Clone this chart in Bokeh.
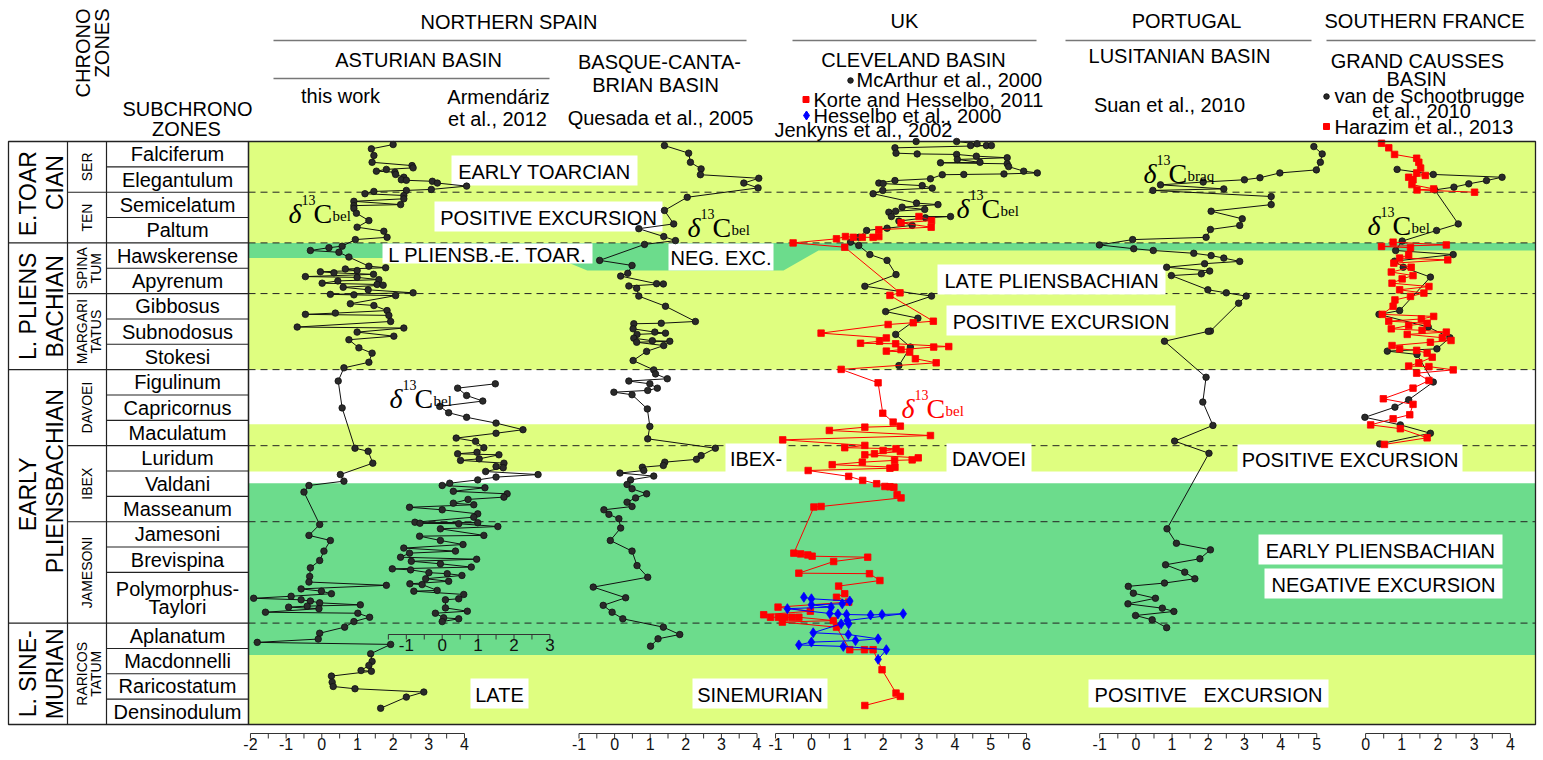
import math
import numpy as np
from bokeh.plotting import figure
from bokeh.models import Range1d
from bokeh.core.properties import value
from bokeh.embed import file_html
from bokeh.resources import INLINE

# ---------------------------------------------------------------- data
SUBZONES = ["Falciferum", "Elegantulum", "Semicelatum", "Paltum", "Hawskerense",
            "Apyrenum", "Gibbosus", "Subnodosus", "Stokesi", "Figulinum",
            "Capricornus", "Maculatum", "Luridum", "Valdani", "Masseanum",
            "Jamesoni", "Brevispina", "Polymorphus-\nTaylori", "Aplanatum",
            "Macdonnelli", "Raricostatum", "Densinodulum"]
SUBZONE_SPAN = [1] * 17 + [2] + [1] * 4
ZONES = ["SER", "TEN", "SPINA\nTUM", "MARGARI\nTATUS", "DAVOEI", "IBEX",
         "JAMESONI", "RARICOS\nTATUM"]
ZONE_SPAN = [2, 2, 2, 3, 3, 3, 4, 4]
STAGES = ["E.TOAR\nCIAN", "L. PLIENS\nBACHIAN", "EARLY\nPLIENSBACHIAN",
          "L. SINE-\nMURIAN"]
STAGE_SPAN = [4, 5, 10, 4]

# background bands (in subzone units, 0 = top of Falciferum)
BAND_TOP = [0, 9, 11.15, 13.02, 13.48, 20.26]
BAND_BOTTOM = [9, 11.15, 13.02, 13.48, 20.26, 23]
BAND_KIND = ["pos", "none", "pos", "none", "neg", "pos"]

# Asturian basin, this work
TW_D13C = [2.00, 1.39, 1.46, 1.41, 2.53, 2.56, 1.81, 1.53, 2.05, 2.07, 2.30, 2.23, 2.37, 3.10, 3.24, 4.06,
           3.07, 2.37, 1.46, 1.21, 2.30, 2.30, 0.90, 2.21, 0.90, 0.90, 0.97, 1.32, 0.99, 1.74, 1.83, 0.94,
           0.57, 0.20, -0.32, 0.48, 0.76, 1.32, 1.79, 0.66, 0.99, -0.04, 0.34, 1.45, -0.46, 0.99, 1.60,
           0.45, 0.01, 1.55, 1.72, 0.60, 1.30, 2.56, 0.24, 0.90, 2.07, 0.80, 1.46, 1.83, 0.38, -0.46, 1.88,
           1.93, -0.69, 2.30, 0.99, 2.02, 0.76, 1.04, 1.41, 1.32, 0.62, 0.46, 0.57, 0.93, 1.30, 1.43, 0.52,
           0.62, -0.36, -0.50, -0.06, -0.36, 0.24, 0.06, -0.06, -0.32, -0.34, -0.36, 1.81, -0.58, -0.01,
           0.27, -0.86, -1.91, -0.58, -0.32, -0.06, 1.08, -0.41, -0.93, -0.08, -1.58, 1.01, 1.34, 0.90,
           0.64, -0.06, -0.10, -1.81, 1.93, 1.37, 1.41, 1.32, 1.10, 1.39, 0.27, 0.29, 0.32, 0.93, 2.86,
           2.37, 1.65]
TW_ZONE = [0.12, 0.29, 0.55, 0.82, 0.95, 1.04, 1.10, 1.17, 1.21, 1.30, 1.41, 1.51, 1.53, 1.57, 1.64, 1.76,
           1.89, 1.93, 1.97, 2.06, 2.13, 2.26, 2.36, 2.49, 2.53, 2.64, 2.83, 3.12, 3.38, 3.54, 3.78, 3.87,
           4.13, 4.19, 4.30, 4.37, 4.56, 4.92, 4.98, 5.03, 5.09, 5.14, 5.18, 5.24, 5.33, 5.36, 5.45,
           5.50, 5.59, 5.64, 5.67, 5.75, 5.85, 5.97, 6.03, 6.05, 6.08, 6.40, 6.47, 6.67, 6.77, 6.82, 6.86,
           7.10, 7.32, 7.36, 7.52, 7.68, 7.82, 8.14, 8.35, 8.71, 8.93, 9.45, 10.51, 12.10, 12.22, 12.69, 13.14,
           13.40, 13.57, 13.83, 15.11, 15.54, 15.74, 16.16, 16.53, 16.82, 17.16, 17.38, 17.51, 17.65, 17.74,
           17.84, 17.94, 18.02, 18.08, 18.13, 18.20, 18.28, 18.33, 18.37, 18.43, 18.57, 18.61, 18.77, 18.94,
           19.16, 19.40, 19.63, 19.76, 19.84, 20.21, 20.51, 20.67, 20.87, 20.90, 21.09, 21.33, 21.50, 21.59, 21.72,
           21.92, 22.36]

# Asturian basin, Armendariz et al. 2012
AR_D13C = [1.48, 0.43, 0.68, 1.13, -0.07, 0.18, 0.68, 1.50, 2.25, 1.50, 0.39, 0.93, 1.16, 0.97, 0.43, 1.58,
           1.03, 0.51, 1.72, 1.50, 1.70, 1.21, 2.67, 1.50, 0.99, 0.21, 0.00, 1.19, 0.31, 1.81, 1.72, 0.72,
           0.31, 0.88, -0.91, 0.00, 0.99, 0.88, -0.76, 0.99, -0.62, 0.46, 1.55, -0.05, 1.16, -0.63, -0.05,
           0.58, -1.07, 0.37, -0.91, -1.16, 0.96, -0.86, -0.05, 0.81, -1.39, -0.88, -0.37, 0.14, 0.55, -0.46,
           0.18, -0.90, -0.56, -0.14, -0.79, 0.60, 0.46, 0.09, 0.09, 0.70, -0.19, 0.04, 0.46, 0.00]
AR_ZONE = [9.56, 9.73, 10.02, 10.24, 10.45, 10.70, 10.88, 11.11, 11.37, 11.51, 11.70, 11.83, 12.08, 12.26,
           12.32, 12.36, 12.52, 12.58, 12.69, 12.82, 12.87, 13.02, 13.14, 13.24, 13.35, 13.48, 13.57, 13.66,
           13.80, 13.90, 14.03, 14.12, 14.27, 14.33, 14.43, 14.53, 14.69, 14.82, 15.02, 15.04, 15.06, 15.08,
           15.19, 15.28, 15.54, 15.57, 15.74, 15.90, 16.04, 16.16, 16.24, 16.40, 16.48, 16.56, 16.66, 16.79,
           16.86, 16.90, 17.01, 17.05, 17.12, 17.25, 17.35, 17.45, 17.48, 17.71, 17.74, 17.87, 18.04, 18.08,
           18.40, 18.53, 18.61, 18.79, 18.83, 18.94]

# Basque-Cantabrian basin, Quesada et al. 2005
BC_D13C = [1.40, 2.08, 2.13, 2.43, 2.41, 4.05, 3.63, 4.03, 2.04, 1.40, 1.66, 0.68, 1.38, 1.71, 0.84, -0.42,
           0.49, 0.37, 0.17, 1.18, 1.37, 0.40, 0.62, 0.68, 1.43, 2.27, 1.31, 0.54, 0.52, 1.13, 1.43, 0.63,
           0.54, 1.06, 1.55, 0.62, 1.38, 0.90, 0.52, 1.10, 1.15, 1.48, 0.40, 0.99, 1.20, 0.93, -0.02, 0.49,
           0.92, 0.99, 0.93, 2.83, 2.43, 2.30, 1.41, 1.37, 0.78, 0.82, 0.15, 1.10, 0.45, 0.35, 0.49, 0.90,
           0.59, 0.35, 0.49, -0.30, -0.16, 0.12, 0.17, -0.12, 0.49, 0.63, 0.93, -0.60, 0.31, -0.32, -0.07,
           0.23, 1.37, 1.83, 1.22, 1.01]
BC_ZONE = [0.16, 0.46, 0.82, 1.08, 1.31, 1.45, 1.64, 1.83, 2.20, 2.72, 3.25, 3.44, 3.75, 3.91, 4.06, 4.69,
           4.89, 5.20, 5.31, 5.61, 5.62, 5.70, 5.79, 6.10, 6.50, 7.10, 7.17, 7.19, 7.39, 7.52, 7.56, 7.61,
           7.76, 7.86, 7.88, 7.92, 8.05, 8.28, 8.64, 9.01, 9.17, 9.36, 9.45, 9.56, 9.73, 9.82, 9.89, 9.99,
           10.55, 11.24, 11.73, 12.10, 12.39, 12.54, 12.65, 12.78, 12.85, 12.98, 13.08, 13.20, 13.35, 13.53,
           13.70, 13.90, 14.06, 14.23, 14.40, 14.53, 14.71, 14.88, 15.25, 15.74, 16.16, 16.73, 17.19, 17.58,
           18.00, 18.30, 18.57, 18.83, 19.16, 19.45, 19.62, 19.91]

# Cleveland basin, McArthur et al. 2000 (black)
MA_D13C = [2.92, 4.05, 4.62, 4.44, 4.88, 5.02, 2.33, 2.36, 2.95, 4.05, 4.60, 5.46, 4.07, 4.70, 3.60, 5.46,
           5.50, 5.92, 6.30, 5.37, 4.25, 3.65, 3.32, 2.33, 1.88, 2.00, 3.09, 3.37, 1.99, 1.72, 2.93, 3.53,
           2.53, 3.16, 2.35, 2.16, 2.23, 3.88, 3.18, 2.44, 2.81, 2.11, 1.54, 1.32, 1.09, 1.32, 1.63, 2.11,
           2.36, 1.49, 3.35, 2.07, 2.97, 2.35, 2.76, 2.44]
MA_ZONE = [0.00, 0.00, 0.09, 0.16, 0.16, 0.16, 0.25, 0.46, 0.49, 0.51, 0.58, 0.64, 0.71, 0.82, 0.84, 0.88,
           0.99, 1.17, 1.24, 1.28, 1.30, 1.31, 1.47, 1.54, 1.64, 1.66, 1.74, 1.84, 1.93, 2.06, 2.43, 2.49,
           2.59, 2.68, 2.75, 2.79, 2.96, 2.96, 3.01, 3.14, 3.31, 3.42, 3.51, 3.78, 3.97, 4.10, 4.46, 4.69,
           5.25, 5.71, 6.10, 6.71, 6.97, 7.61, 8.11, 8.84]

# Cleveland basin, Korte and Hesselbo 2011 (red)
KH_D13C = [3.00, 3.35, 2.50, 3.34, 1.88, 1.88, 1.72, 1.42, 1.17, 0.95, 0.70, -0.51, 0.93, 2.47, 2.19, 3.40,
           2.84, 2.14, 0.27, 2.09, 1.90, 1.37, 2.35, 3.83, 3.41, 2.50, 2.09, 2.74, 2.90, 3.48, 0.83, 1.86,
           1.99, 2.28, 2.48, 1.49, 0.50, 3.32, -0.80, 1.49, 0.93, 2.36, 2.00, 2.48, 1.76, 1.49, 2.98, 2.81,
           2.32, 1.42, 0.58, 2.33, 2.19, -0.09, 1.04, 1.43, 1.82, 2.05, 2.19, 2.30, 2.39, 2.50, 0.27, 0.07,
           -0.49, -0.30, -0.10, 0.02, 1.57, 0.62, -0.35, 1.62, 1.91, 0.76, 0.93, 0.70, 1.04, -0.93, -0.03,
           -1.33, -1.14, -0.92, -0.74, -0.54, -0.35, 0.61, -0.81, 0.70, 1.07, 1.48, 1.72, 1.97, 2.36, 2.48,
           1.49]
KH_ZONE = [2.96, 3.12, 3.21, 3.38, 3.48, 3.75, 3.78, 3.78, 3.78, 3.75, 3.84, 4.00, 4.17, 5.97, 6.07, 7.09,
           7.15, 7.22, 7.56, 7.75, 7.88, 7.96, 7.98, 8.09, 8.11, 8.21, 8.27, 8.31, 8.57, 8.73, 8.99, 9.52,
           10.72, 11.07, 11.23, 11.27, 11.40, 11.60, 11.77, 11.99, 12.08, 12.12, 12.19, 12.23, 12.32, 12.36,
           12.48, 12.56, 12.58, 12.65, 12.75, 12.85, 12.89, 12.98, 13.21, 13.37, 13.50, 13.61, 13.62, 13.64,
           13.93, 14.06, 14.40, 14.42, 16.24, 16.27, 16.31, 16.36, 16.40, 16.57, 17.03, 17.05, 17.32, 17.54,
           17.84, 17.98, 18.17, 18.37, 18.53, 18.67, 18.77, 18.77, 18.77, 18.77, 18.77, 18.90, 18.96, 19.16,
           20.05, 20.05, 20.05, 20.84, 21.76, 21.89, 22.25]

# Cleveland basin, Hesselbo et al. 2000 (blue)
HE_D13C = [-0.21, 0.00, 1.07, 0.86, 0.00, 0.55, -0.67, 0.51, 0.74, 0.98, 1.65, 1.97, 2.56, 1.00, 1.04,
           0.83, 0.05, 1.03, 1.86, 1.23, 0.00, -0.35, 0.89, 2.09, 1.86]
HE_ZONE = [17.98, 18.04, 18.13, 18.24, 18.28, 18.37, 18.43, 18.62, 18.64, 18.66, 18.68, 18.66, 18.63, 18.90,
           19.03, 19.03, 19.38, 19.45, 19.62, 19.69, 19.75, 19.86, 19.92, 20.05, 20.43]

# Lusitanian basin, Suan et al. 2010
SU_D13C = [4.92, 5.15, 5.10, 4.99, 3.98, 3.43, 3.00, 1.86, 0.68, 2.43, 0.47, 3.74, 3.74, 2.08, 2.94, 2.87,
           2.06, 1.94, -0.09, -1.01, -0.06, 0.48, 1.60, 2.08, 2.43, 2.87, 1.90, 0.85, 2.04, 1.81, 0.98, 1.99,
           2.50, 3.05, 2.84, 2.06, 2.00, 0.79, 1.94, 1.85, 2.13, 1.07, 2.02, 0.86, 1.12, 2.06, 1.77, 0.82,
           1.35, 1.63, 0.79, -0.21, -0.07, 0.54, -0.22, 0.73, 1.05, -0.01, 0.45, 0.85]
SU_ZONE = [0.20, 0.49, 0.82, 1.12, 1.24, 1.43, 1.51, 1.60, 1.71, 1.87, 1.93, 2.17, 2.49, 2.75, 3.05, 3.31,
           3.47, 3.78, 3.87, 4.08, 4.23, 4.30, 4.41, 4.50, 4.60, 4.73, 4.82, 4.96, 5.11, 5.22, 5.29, 5.85,
           5.97, 6.10, 6.38, 7.48, 7.49, 7.88, 9.30, 10.28, 11.20, 11.82, 12.30, 15.28, 15.85, 16.11, 16.46,
           16.70, 16.99, 17.25, 17.42, 17.55, 17.82, 18.02, 18.24, 18.41, 18.54, 18.70, 18.87, 19.18]

# Grand Causses basin, van de Schootbrugge et al. 2010 (black)
VS_D13C = [0.87, 1.87, 3.77, 3.34, 2.85, 2.44, 1.91, 2.56, 1.96, 1.01, 0.83, 2.42, 0.80, 1.04, 1.79, 0.94,
           0.37, 1.73, 2.33, 1.97, 0.60, 1.42, 1.87, 1.19, 0.81, -0.02, 0.96, 1.79, 0.39]
VS_ZONE = [1.10, 1.30, 1.41, 1.54, 1.67, 1.80, 1.91, 3.25, 3.51, 3.93, 4.30, 4.46, 4.72, 4.96, 5.35, 6.67,
           6.82, 7.32, 7.74, 8.18, 8.27, 8.40, 9.49, 10.19, 10.48, 10.88, 11.18, 11.51, 11.93]

# Grand Causses basin, Harazim et al. 2013 (red), two sampled intervals
HA1_D13C = [0.44, 0.64, 0.80, 1.41, 1.47, 1.52, 1.41, 1.65, 1.19, 1.31, 1.28, 1.88, 1.42, 3.01]
HA1_ZONE = [0.07, 0.25, 0.51, 0.66, 0.82, 1.05, 1.24, 1.34, 1.41, 1.51, 1.70, 1.87, 1.91, 2.00]
HA2_D13C = [0.76, 2.23, 0.44, 1.24, 1.19, 0.94, 2.27, 0.78, 1.26, 0.71, 1.31, 1.01, 0.73, 1.75, 0.94, 1.61,
            1.24, 0.81, 0.76, 0.46, 1.88, 1.54, 0.64, 1.70, 1.19, 0.71, 1.56, 2.23, 1.15, 2.12, 2.36, 1.79,
            0.73, 0.94, 1.41, 1.70, 1.84, 1.47, 1.19, 1.75, 2.42, 1.41, 1.75, 1.31, 0.49, 1.31, 1.22, 0.76,
            0.14, 0.96, 1.70, 0.52]
HA2_ZONE = [3.97, 4.08, 4.14, 4.19, 4.47, 4.60, 4.67, 4.80, 4.96, 5.15, 5.29, 5.42, 5.59, 5.72, 5.85, 5.98,
            6.11, 6.25, 6.50, 6.82, 6.90, 7.00, 7.09, 7.17, 7.26, 7.39, 7.45, 7.52, 7.61, 7.74, 7.85, 7.92,
            8.05, 8.18, 8.24, 8.35, 8.51, 8.73, 8.86, 8.88, 9.01, 9.14, 9.43, 9.73, 10.15, 10.37, 10.78, 10.94,
            11.18, 11.33, 11.69, 11.95]

# axis ticks of every column (per mil VPDB)
TW_TICKS = [-2, -1, 0, 1, 2, 3, 4]
AR_TICKS = [-1, 0, 1, 2, 3]
BC_TICKS = [-1, 0, 1, 2, 3, 4]
UK_TICKS = [-1, 0, 1, 2, 3, 4, 5, 6]
SU_TICKS = [-1, 0, 1, 2, 3, 4, 5]
FR_TICKS = [0, 1, 2, 3, 4]

# ---------------------------------------------------------------- layout
W, H = 1540, 758
X0, Y0 = 0, 0                      # page offset of the canvas
FL, FR_, FT, FB = 248, 1535, 141, 724  # plot frame (page px)
RH = (FB - FT) / 23.0

YELLOW = "#DFFE80"
GREEN = "#6CDC8C"
SANS = "Liberation Sans"
SERIF = "Liberation Serif"

p = figure(width=W, height=H, x_range=Range1d(X0, X0 + W), y_range=Range1d(Y0 + H, Y0),
           output_backend="svg", toolbar_location=None, min_border=0,
           x_axis_location=None, y_axis_location=None, outline_line_color=None)
p.grid.visible = False
p.background_fill_color = "white"
p.border_fill_color = "white"

PANEL_GEOM = {"tw": (321.3, 35.67), "ar": (441.7, 35.9), "bc": (614.1, 35.6),
              "uk": (810.9, 35.86), "su": (1135.4, 36.17), "fr": (1365.1, 36.2)}
p.extra_x_ranges = {k: Range1d((X0 - z) / s, (X0 + W - z) / s) for k, (z, s) in PANEL_GEOM.items()}
p.extra_y_ranges = {"zone": Range1d((Y0 + H - FT) / RH, (Y0 - FT) / RH)}


def T(x, y, s, size=20, align="center", baseline="middle", angle=0.0, color="black",
      font=SANS, style="normal", xr=None, yr=None):
    kw = {}
    if xr:
        kw["x_range_name"] = xr
    if yr:
        kw["y_range_name"] = yr
    p.text(x=[x], y=[y], text=[s], text_font=value(font), text_font_size=value(f"{size}px"),
           text_align=align, text_baseline=baseline, angle=angle, text_color=color,
           text_font_style=style, **kw)


# ---------------------------------------------------------------- bands
for t, b, k in zip(BAND_TOP, BAND_BOTTOM, BAND_KIND):
    if k == "none":
        continue
    p.quad(left=[FL], right=[FR_], top=[t], bottom=[b], fill_color=YELLOW if k == "pos" else GREEN,
           line_color=None, y_range_name="zone")

# late Pliensbachian - early Toarcian negative excursion (thin band, widening)
neg_x = [FL, 556.7, 586.7, 783, 818, FR_, FR_, FL]
neg_y = [4.60, 4.60, 5.09, 5.09, 4.30, 4.30, 4.0, 4.0]
p.patch(neg_x, neg_y, fill_color=GREEN, line_color=None, y_range_name="zone")

# chronozone boundaries (dashed)
for b in [2, 4, 6, 9, 12, 15, 19]:
    p.segment(x0=[FL], x1=[FR_], y0=[b], y1=[b], line_color="#222222", line_width=1,
              line_dash="7 5", y_range_name="zone")

# ---------------------------------------------------------------- label boxes
NB3 = "\u00a0\u00a0\u00a0"
BOXES = [("EARLY TOARCIAN", 451, 637, 155, 185),
         ("POSITIVE EXCURSION", 434, 662, 201, 231),
         ("L PLIENSB.-E. TOAR.", 382, 592, 243, 263),
         ("NEG. EXC.", 668, 773, 243, 270),
         ("LATE PLIENSBACHIAN", 937, 1165, 264, 294),
         ("POSITIVE EXCURSION", 946, 1175, 305, 335),
         ("IBEX-", 725, 786, 443, 472),
         ("DAVOEI", 946, 1031, 443, 472),
         ("POSITIVE EXCURSION", 1237, 1462, 444, 472),
         ("EARLY PLIENSBACHIAN", 1258, 1502, 534, 564),
         ("NEGATIVE EXCURSION", 1264, 1502, 568, 598),
         ("LATE", 470, 528, 678, 708),
         ("SINEMURIAN", 692, 827, 678, 708),
         ("POSITIVE" + NB3 + "EXCURSION", 1088, 1328, 679, 707)]
for s, l, r, t, b in BOXES:
    p.quad(left=[l], right=[r], top=[t], bottom=[b], fill_color="white", line_color=None)
    T((l + r) / 2, (t + b) / 2 + 1, s, size=20)

# ---------------------------------------------------------------- series


def series(xs, zs, rng, marker, color, fill, size, lw=1.0):
    p.line(xs, zs, line_color=color, line_width=lw, x_range_name=rng, y_range_name="zone")
    p.scatter(xs, zs, marker=marker, size=size, fill_color=fill, line_color=color, line_width=0.8,
              x_range_name=rng, y_range_name="zone")


BLK, BLKF = "#111111", "#2a2a2a"
series(TW_D13C, TW_ZONE, "tw", "circle", BLK, BLKF, 6.5)
series(AR_D13C, AR_ZONE, "ar", "circle", BLK, BLKF, 6.5)
series(BC_D13C, BC_ZONE, "bc", "circle", BLK, BLKF, 6.5)
series(MA_D13C, MA_ZONE, "uk", "circle", BLK, BLKF, 6.5)
series(KH_D13C, KH_ZONE, "uk", "square", "#FF0000", "#FF0000", 6.5)
series(HE_D13C, HE_ZONE, "uk", "diamond", "#0000FF", "#0000FF", 10)
series(SU_D13C, SU_ZONE, "su", "circle", BLK, BLKF, 6.5)
series(VS_D13C, VS_ZONE, "fr", "circle", BLK, BLKF, 6.5)
series(HA1_D13C, HA1_ZONE, "fr", "square", "#FF0000", "#FF0000", 6.5)
series(HA2_D13C, HA2_ZONE, "fr", "square", "#FF0000", "#FF0000", 6.5)


# delta labels
def delta(x, y, sub, color="black"):
    T(x, y, "\u03b4", size=28, align="left", baseline="alphabetic", font=SERIF, style="italic", color=color)
    T(x + 13, y - 14, "13", size=14, align="left", baseline="alphabetic", font=SERIF, color=color)
    T(x + 25, y, "C", size=28, align="left", baseline="alphabetic", font=SERIF, color=color)
    T(x + 44, y + 2, sub, size=15, align="left", baseline="alphabetic", font=SERIF, color=color)


delta(288, 213, "bel")
delta(687, 227, "bel")
delta(389, 398, "bel")
delta(956, 208, "bel")
delta(901, 408, "bel", color="#FF0000")
delta(1143, 173, "braq")
delta(1367, 225, "bel")

# frame border
p.quad(left=[FL], right=[FR_], top=[0], bottom=[23], fill_color=None, line_color="#222222",
       line_width=1.3, y_range_name="zone")

# ---------------------------------------------------------------- stratigraphic table
TL, TC1, TC2 = 8, 67, 106
p.quad(left=[TL], right=[FL], top=[0], bottom=[23], fill_color=None, line_color="#222222",
       line_width=1.3, y_range_name="zone")
p.segment(x0=[TC1, TC2], x1=[TC1, TC2], y0=[0, 0], y1=[23, 23], line_color="#222222",
          line_width=1.2, y_range_name="zone")

sub_b = np.cumsum([0] + SUBZONE_SPAN)
zone_b = np.cumsum([0] + ZONE_SPAN)
stage_b = np.cumsum([0] + STAGE_SPAN)
p.segment(x0=[TC2] * (len(sub_b) - 2), x1=[FL] * (len(sub_b) - 2), y0=list(sub_b[1:-1]),
          y1=list(sub_b[1:-1]), line_color="#222222", line_width=1.1, y_range_name="zone")
p.segment(x0=[TC1] * (len(zone_b) - 2), x1=[TC2] * (len(zone_b) - 2), y0=list(zone_b[1:-1]),
          y1=list(zone_b[1:-1]), line_color="#222222", line_width=1.1, y_range_name="zone")
p.segment(x0=[TL] * (len(stage_b) - 2), x1=[TC1] * (len(stage_b) - 2), y0=list(stage_b[1:-1]),
          y1=list(stage_b[1:-1]), line_color="#222222", line_width=1.1, y_range_name="zone")

for name, a, b in zip(SUBZONES, sub_b[:-1], sub_b[1:]):
    lines = name.split("\n")
    mid = (a + b) / 2
    n = len(lines)
    for i, ln in enumerate(lines):
        T(177, mid + (i - (n - 1) / 2) * 0.72, ln, size=20, yr="zone")

HALF = math.pi / 2
for name, a, b in zip(ZONES, zone_b[:-1], zone_b[1:]):
    lines = name.split("\n")
    mid = (a + b) / 2
    xs = [86] if len(lines) == 1 else [81, 95]
    for ln, x in zip(lines, xs):
        T(x, mid, ln, size=14, angle=HALF, yr="zone")

# small per-line vertical shifts (in subzone units) of the rotated stage names
STAGE_SHIFT = [(0.06, -0.38), (0.0, 0.0), (-0.08, -0.6), (0.0, 0.0)]
for name, a, b, sh in zip(STAGES, stage_b[:-1], stage_b[1:], STAGE_SHIFT):
    lines = name.split("\n")
    mid = (a + b) / 2
    for ln, x, d in zip(lines, [27.5, 54], sh):
        T(x, mid + d, ln, size=23, angle=HALF, yr="zone")

# ---------------------------------------------------------------- headers
T(82, 8, "CHRONO", size=20, angle=HALF, align="right")
T(101, 8, "ZONES", size=20, angle=HALF, align="right")
T(187, 108, "SUBCHRONO", size=20)
T(186, 128, "ZONES", size=20)

RULES = [(273, 746, 40), (273, 549, 78), (792, 1036, 40), (1065, 1311, 40), (1326, 1535, 40)]
for a, b, y in RULES:
    p.segment(x0=[a], x1=[b], y0=[y], y1=[y], line_color="#777777", line_width=1.5)

T(508.5, 21, "NORTHERN SPAIN")
T(418, 59, "ASTURIAN BASIN")
T(340, 95, "this work")
T(498, 96, "Armendáriz")
T(497, 118, "et al., 2012")
T(659, 61, "BASQUE-CANTA-")
T(655, 84, "BRIAN BASIN")
T(660, 117, "Quesada et al., 2005")
T(904, 20, "UK")
T(1186, 20, "PORTUGAL")
T(1424, 20, "SOUTHERN FRANCE")
T(913, 59, "CLEVELAND BASIN")
T(856, 79, "McArthur et al., 2000", align="left")
T(813, 99, "Korte and Hesselbo, 2011", align="left")
T(813, 115, "Hesselbo et al., 2000", align="left")
T(774, 129, "Jenkyns et al., 2002", align="left")
T(1179, 55, "LUSITANIAN BASIN")
T(1169, 104, "Suan et al., 2010")
T(1417, 60, "GRAND CAUSSES")
T(1416, 78, "BASIN")
T(1334, 95, "van de Schootbrugge", align="left")
T(1421, 110, "et al., 2010")
T(1334, 126, "Harazim et al., 2013", align="left")

p.scatter([850, 1326], [80, 96], marker="circle", size=5.5, fill_color=BLKF, line_color=BLK)
p.scatter([805.5, 1326], [99, 126], marker="square", size=6, fill_color="#FF0000", line_color="#FF0000")
p.scatter([806], [115], marker="diamond", size=9, fill_color="#0000FF", line_color="#0000FF")


# ---------------------------------------------------------------- axes
def draw_axis(rng, ticks, yline, label_y, size=16, start=None):
    lo = ticks[0] if start is None else start
    hi = ticks[-1]
    p.segment(x0=[lo], x1=[hi], y0=[yline], y1=[yline], line_color="#333333", line_width=1.2,
              x_range_name=rng)
    minor = list(np.arange(lo, hi + 0.01, 0.5))
    p.segment(x0=minor, x1=minor, y0=[yline] * len(minor), y1=[yline + 5] * len(minor),
              line_color="#333333", line_width=1.0, x_range_name=rng)
    p.text(x=ticks, y=[label_y] * len(ticks), text=[str(t) for t in ticks], text_font=value(SANS),
           text_font_size=value(f"{size}px"), text_align="center", text_baseline="top",
           text_color="#111111", x_range_name=rng)


draw_axis("tw", TW_TICKS, 733, 737)
draw_axis("bc", BC_TICKS, 733, 737)
draw_axis("uk", UK_TICKS, 733, 737)
draw_axis("su", SU_TICKS, 733, 737)
draw_axis("fr", FR_TICKS, 733, 737)
draw_axis("ar", AR_TICKS, 634, 638, size=17, start=-1.5)

open("out.html", "w").write(file_html(p, INLINE))
